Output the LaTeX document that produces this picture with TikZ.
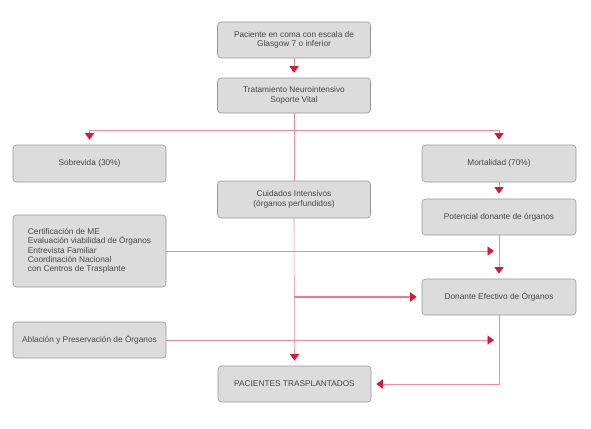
\documentclass[tikz,border=0pt]{standalone}
\usepackage{fontspec}
\setmainfont{Liberation Sans}
\usetikzlibrary{arrows.meta}
\definecolor{linepink}{RGB}{236,140,160}
\definecolor{thickpink}{RGB}{238,120,150}
\definecolor{arrred}{RGB}{215,25,50}
\definecolor{boxfill}{RGB}{220,220,220}
\definecolor{boxdraw}{RGB}{150,150,150}
\definecolor{txt}{RGB}{70,70,70}
\begin{document}
\begin{tikzpicture}[x=1pt,y=-1pt,
  box/.style={draw=boxdraw, fill=boxfill, rounded corners=3.5pt, line width=0.6pt,
    minimum width=153pt, minimum height=36pt, inner sep=2pt,
    font=\fontsize{8.3}{9.4}\selectfont, text=txt, align=center},
  conn/.style={draw=linepink, line width=0.6pt, shorten >=5pt,
    -{Triangle[length=6.5pt,width=9pt,color=arrred]}},
  plain/.style={draw=linepink, line width=0.6pt}]
\useasboundingbox (0,0) rectangle (591,428);
\node[box] (top) at (294,40) {Paciente en coma con escala de\\Glasgow 7 o inferior};
\node[box, minimum height=35pt] (trat) at (294,95.5) {Tratamiento Neurointensivo\\Soporte Vital};
\node[box, minimum height=37pt] (sobre) at (89.5,163.5) {Sobrevida (30\%)};
\node[box, minimum height=37pt, minimum width=154pt] (mort) at (499,163.5) {Mortalidad (70\%)};
\node[box, minimum height=37pt] (cuid) at (294,199.5) {Cuidados Intensivos\\(órganos perfundidos)};
\node[box, minimum width=154pt] (pot) at (499,217) {Potencial donante de órganos};
\node[box, minimum height=72pt, align=left] (cert) at (89.5,251)
  {Certificación de ME\\Evaluación viabilidad de Órganos\\Entrevista Familiar\\Coordinación Nacional\\con Centros de Trasplante};
\node[box, minimum width=154pt] (don) at (499,297) {Donante Efectivo de Órganos};
\node[box] (abl) at (89.5,340) {Ablación y Preservación de Órganos};
\node[box] (pac) at (294.5,384) {PACIENTES TRASPLANTADOS};
\coordinate (split) at (294,130);
\draw[conn] (top) -- (trat);
\draw[plain] (trat.south) -- (cuid.north);
\draw[conn] (split) -| (sobre.north);
\draw[conn] (split) -| (mort.north);
\draw[conn] (cuid.south) -- (pac.north);
\draw[conn] (mort) -- (pot);
\draw[conn] (pot) -- (don);
\draw[conn] (cert.east) -- (cert.east -| pot.south);
\draw[conn, draw=thickpink, line width=1.8pt, -{Triangle[length=6.5pt,width=9pt,color=arrred]}] (cuid.south |- don.west) -- (don.west);
\draw[conn] (abl.east) -- (abl.east -| don.south);
\draw[conn] (don.south) |- (pac.east);
\end{tikzpicture}
\end{document}
